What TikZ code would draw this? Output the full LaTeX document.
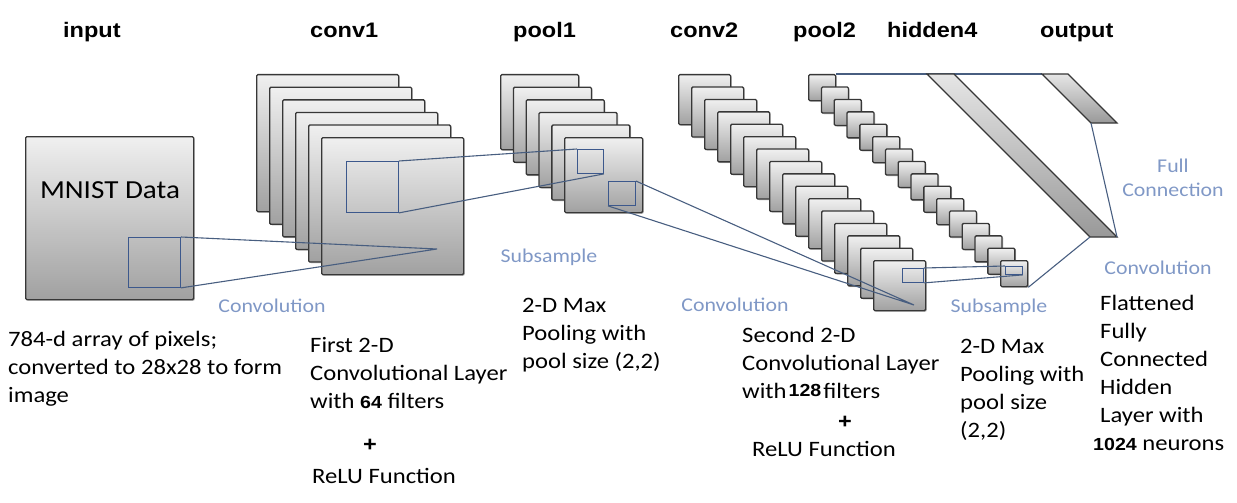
\documentclass[tikz,border=0pt]{standalone}
\usepackage{fontspec}
\setmainfont{Carlito}[FakeStretch=1.12]
\newfontfamily\titlefont{Liberation Sans}[FakeStretch=1.12]
\usetikzlibrary{shadows}
\definecolor{lblblue}{RGB}{128,152,198}
\definecolor{conncol}{RGB}{72,94,128}
\definecolor{smallcol}{RGB}{60,88,140}
\definecolor{boxedge}{RGB}{55,55,55}
\newcommand\numf[1]{{\titlefont\bfseries\fontsize{17.5}{17.5}\selectfont #1}}
\begin{document}
\begin{tikzpicture}[x=1pt,y=-1pt,
  fmap/.style={draw=boxedge, line width=1.3pt, rounded corners=1.2pt,
    top color=black!6, bottom color=black!37, inner sep=0pt, anchor=north west,
    drop shadow={shadow xshift=1.3pt,shadow yshift=-1.3pt,opacity=0.35}},
  smallsq/.style={draw=smallcol, line width=0.9pt, inner sep=0pt, anchor=north west},
  conn/.style={draw=conncol, line width=1.1pt},
  bar/.style={draw=boxedge, line width=1.1pt, top color=black!10, bottom color=black!40},
  lbl/.style={text=lblblue, font=\fontsize{19.5}{24}\selectfont, inner sep=0pt},
  ttl/.style={font=\titlefont\bfseries\fontsize{21}{24}\selectfont, anchor=base west, inner sep=0pt},
  desc/.style={font=\fontsize{22}{28}\selectfont, align=left, anchor=base west, inner sep=0pt},
  plus/.style={font=\titlefont\bfseries\fontsize{21}{21}\selectfont, inner sep=0pt}
]
\useasboundingbox (0,0) rectangle (1237,503);

% titles
\node[ttl] (t-in) at (63,38) {input};
\node[ttl] (t-c1) at (310,38) {conv1};
\node[ttl] (t-p1) at (513,38) {pool1};
\node[ttl] (t-c2) at (670,38) {conv2};
\node[ttl] (t-p2) at (793,38) {pool2};
\node[ttl] (t-h4) at (887,38) {hidden4};
\node[ttl] (t-out) at (1040,38) {output};

% input
\node[fmap, minimum width=168pt, minimum height=163pt] (in) at (25,136) {};
\node[font=\fontsize{26}{30}\selectfont, anchor=base, inner sep=0pt] (mnist) at (110,198) {MNIST Data};

% conv1 stack
\foreach \i in {0,...,5}
  \node[fmap, minimum width=142pt, minimum height=137pt] (c1-\i) at ({256+13*\i},{74+12.6*\i}) {};
% pool1 stack
\foreach \i in {0,...,5}
  \node[fmap, minimum width=78pt, minimum height=75pt] (p1-\i) at ({500+12.8*\i},{74+12.6*\i}) {};
% conv2 stack
\foreach \i in {0,...,15}
  \node[fmap, minimum width=52pt, minimum height=50pt] (c2-\i) at ({678+13*\i},{74+12.4*\i}) {};
% pool2 stack
\foreach \i in {0,...,15}
  \node[fmap, minimum width=27pt, minimum height=26pt] (p2-\i) at ({808+12.8*\i},{74+12.4*\i}) {};

% small receptive squares
\node[smallsq, minimum width=52pt, minimum height=50pt] (ins) at (128,237) {};
\node[smallsq, minimum width=52pt, minimum height=51pt] (c1s) at (346,161) {};
\node[smallsq, minimum width=26pt, minimum height=24pt] (p1sa) at (577,149) {};
\node[smallsq, minimum width=27pt, minimum height=24pt] (p1sb) at (608,181) {};
\node[smallsq, minimum width=21pt, minimum height=14pt] (c2s) at (902,268) {};
\node[smallsq, minimum width=17pt, minimum height=8pt] (p2s) at (1005,266) {};

% bars
\coordinate (h-tl) at (927,74);
\coordinate (h-tr) at (954,74);
\coordinate (h-br) at (1117,237);
\coordinate (h-bl) at (1090,237);
\coordinate (o-tl) at (1042,74);
\coordinate (o-tr) at (1068,74);
\coordinate (o-br) at (1117,123);
\coordinate (o-bl) at (1091,123);

\draw[conn] (p2-0.north east) -- (o-tl);
\draw[bar] (h-tl) -- (h-tr) -- (h-br) -- (h-bl) -- cycle;
\draw[bar] (o-tl) -- (o-tr) -- (o-br) -- (o-bl) -- cycle;

% connectors
\coordinate (c1focus) at (437,249);
\coordinate (c2focus) at (914,305);
\draw[conn] (ins.north east) -- (c1focus) -- (ins.south east);
\draw[conn] (c1s.north east) -- (p1sa.north west);
\draw[conn] (c1s.south east) -- (p1sa.south east);
\draw[conn] (p1sb.north east) -- (c2focus) -- (p1sb.south west);
\draw[conn] (c2s.north east) -- (p2s.north west);
\draw[conn] (c2s.south east) -- (p2s.south east);
\draw[conn] (o-bl) -- (h-br);
\draw[conn] (h-bl) -- (p2-15.south east);

% blue labels
\node[lbl] (l-conv1) at (272,306) {Convolution};
\node[lbl] (l-sub1) at (549,257) {Subsample};
\node[lbl] (l-conv2) at (735,305) {Convolution};
\node[lbl] (l-sub2) at (999,307) {Subsample};
\node[lbl, align=center] (l-full) at (1173,178) {Full\\Connection};
\node[lbl] (l-conv3) at (1158,268) {Convolution};

% descriptions (anchor = baseline of last line)
\node[desc] (d-in) at (8,402) {784-d array of pixels;\\converted to 28x28 to form\\image};
\node[desc] (d-c1) at (310,408) {First 2-D\\Convolutional Layer\\with \numf{64} filters};
\node[plus] (d-c1p) at (370,445) {+};
\node[desc] (d-c1r) at (312,483) {ReLU Function};
\node[desc] (d-p1) at (522,368) {2-D Max\\Pooling with\\pool size (2,2)};
\node[desc] (d-c2) at (742,398) {Second 2-D\\Convolutional Layer\\with\kern2pt\raisebox{1.5pt}{\numf{128}}\kern2pt filters};
\node[plus] (d-c2p) at (845,422) {+};
\node[desc] (d-c2r) at (752,456) {ReLU Function};
\node[desc] (d-p2) at (960,437) {2-D Max\\Pooling with\\pool size\\(2,2)};
\node[desc] (d-h) at (1100,450) {Flattened\\Fully\\Connected\\Hidden\\Layer with\\\hspace*{-7pt}\numf{1024} neurons};
\end{tikzpicture}
\end{document}
